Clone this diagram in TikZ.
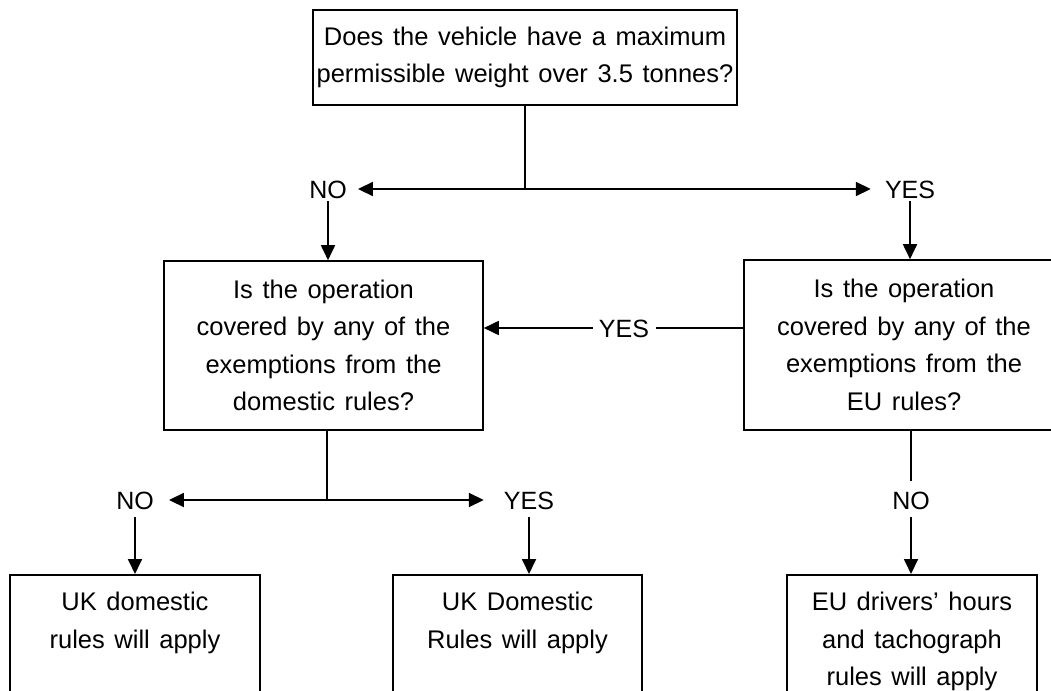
\documentclass[tikz,border=0pt]{standalone}
\usepackage{fontspec}
\setmainfont{Liberation Sans}
\newfontfamily\boxfont[WordSpace=1.35]{Liberation Sans}
\usetikzlibrary{arrows.meta}
\begin{document}
\begin{tikzpicture}[x=1pt,y=-1pt,
  box/.style={draw, line width=1.6pt, inner sep=0pt},
  txt/.style={align=center, font=\boxfont\fontsize{25.5}{37.5}\selectfont, inner sep=0pt},
  lbl/.style={font=\fontsize{25}{30}\selectfont, inner sep=0pt, text height=18pt, text depth=0pt},
  arr/.style={line width=1.8pt, -{Triangle[length=15pt,width=14pt]}},
  ln/.style={line width=1.6pt}]
\clip (0,0) rectangle (1051,690);
% boxes
\node[box, minimum width=424pt, minimum height=95pt] (q1) at (525,57.5) {};
\node[txt] (q1t) at (q1.center) {Does the vehicle have a maximum\\permissible weight over 3.5 tonnes?};
\node[box, minimum width=319pt, minimum height=169pt] (q2) at (323.5,345.5) {};
\node[txt] (q2t) at (q2.center) {Is the operation\\covered by any of the\\exemptions from the\\domestic rules?};
\node[box, minimum width=328pt, minimum height=170pt] (q3) at (908,345) {};
\node[txt] (q3t) at ([xshift=-4pt]q3.center) {Is the operation\\covered by any of the\\exemptions from the\\EU rules?};
\node[box, anchor=north, minimum width=250pt, minimum height=150pt] (r1) at (135,574) {};
\node[txt, anchor=north] (r1t) at ([yshift=-18pt]r1.north) {UK domestic\\rules will apply};
\node[box, anchor=north, minimum width=249pt, minimum height=150pt] (r2) at (517.5,574) {};
\node[txt, anchor=north] (r2t) at ([yshift=-18pt]r2.north) {UK Domestic\\Rules will apply};
\node[box, anchor=north, minimum width=250pt, minimum height=150pt] (r3) at (912,574) {};
\node[txt, anchor=north] (r3t) at ([yshift=-18pt]r3.north) {EU drivers’ hours\\and tachograph\\rules will apply};
% labels
\node[lbl] (no1) at (328,189) {NO};
\node[lbl] (yes1) at (910,189) {YES};
\node[lbl] (yes2) at (624,328) {YES};
\node[lbl] (no2) at (135,500) {NO};
\node[lbl] (yes3) at (529,500) {YES};
\node[lbl] (no3) at (911,500) {NO};
\coordinate (j1) at (525,189);
\coordinate (j2) at (327,500);
% connectors
\draw[ln] (q1.south) -- (j1);
\draw[arr] (j1) -- ([xshift=11pt]no1.east);
\draw[arr] (j1) -- ([xshift=-14pt]yes1.west);
\draw[arr] ([yshift=-3pt]no1.south) -- (no1 |- q2.north);
\draw[arr] ([yshift=-3pt]yes1.south) -- (yes1 |- q3.north);
\draw[ln] (q3.west |- yes2) -- ([xshift=7pt]yes2.east);
\draw[arr] ([xshift=-6pt]yes2.west) -- (q2.east |- yes2);
\draw[ln] (j2 |- q2.south) -- (j2);
\draw[arr] (j2) -- ([xshift=15pt]no2.east);
\draw[arr] (j2) -- ([xshift=-20pt]yes3.west);
\draw[arr] ([yshift=-8pt]no2.south) -- (no2 |- r1.north);
\draw[arr] ([yshift=-8pt]yes3.south) -- (yes3 |- r2.north);
\draw[ln] (no3 |- q3.south) -- ([yshift=10pt]no3.north);
\draw[arr] ([yshift=-8pt]no3.south) -- (no3 |- r3.north);
\end{tikzpicture}
\end{document}
